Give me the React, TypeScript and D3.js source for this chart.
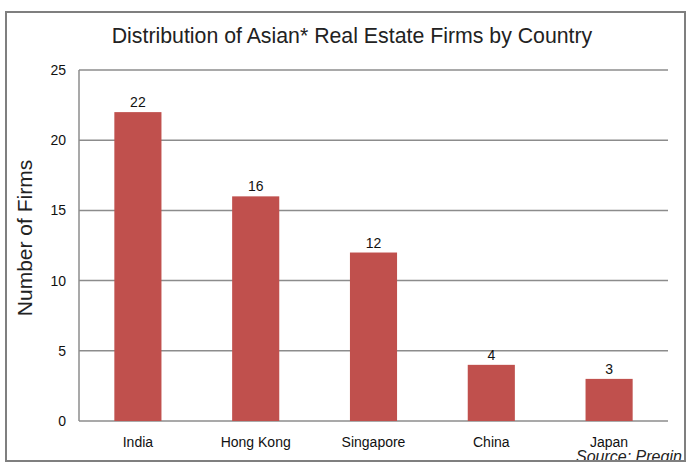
import React from "react";
import * as d3 from "d3";

const categories = ["India", "Hong Kong", "Singapore", "China", "Japan"];
const values = [22, 16, 12, 4, 3];
const yTicks = [0, 5, 10, 15, 20, 25];
const title = "Distribution of Asian* Real Estate Firms by Country";
const yLabel = "Number of Firms";
const source = "Source: Preqin";

export default function App() {
  const W = 688, H = 463;
  const plot = { left: 79, right: 668, top: 70, bottom: 421 };
  const x = d3.scaleBand<string>().domain(categories).range([plot.left, plot.right]).paddingInner(0.6).paddingOuter(0.3);
  const y = d3.scaleLinear().domain([0, 25]).range([plot.bottom, plot.top]);
  const font = "'Liberation Sans', Arial, sans-serif";
  return (
    <svg width={W} height={H} style={{ position: "absolute", left: 0, top: 0, background: "#fff" }} fontFamily={font}>
      <defs>
        <clipPath id="box"><rect x={6} y={12} width={679} height={449} /></clipPath>
      </defs>
      <rect x={0} y={0} width={W} height={H} fill="#fff" />
      <text x={352} y={43} textAnchor="middle" fontSize={21.3} fill="#222">{title}</text>
      {yTicks.map(t => (
        <g key={t}>
          <line x1={plot.left} x2={plot.right} y1={y(t)} y2={y(t)} stroke="#8c8c8c" strokeWidth={1.5} />
          <text x={66} y={y(t) + 5} textAnchor="end" fontSize={14} fill="#111">{t}</text>
        </g>
      ))}
      <line x1={plot.left} x2={plot.left} y1={plot.top} y2={plot.bottom} stroke="#8c8c8c" strokeWidth={1.5} />
      {categories.map((c, i) => (
        <g key={c}>
          <rect x={x(c)} y={y(values[i])} width={x.bandwidth()} height={plot.bottom - y(values[i])} fill="#C0504D" />
          <text x={(x(c) as number) + x.bandwidth() / 2} y={y(values[i]) - 5} textAnchor="middle" fontSize={14} fill="#111">{values[i]}</text>
          <text x={(x(c) as number) + x.bandwidth() / 2} y={447} textAnchor="middle" fontSize={14} fill="#111">{c}</text>
        </g>
      ))}
      <text transform={`translate(32,238) rotate(-90)`} textAnchor="middle" fontSize={21} fill="#222">{yLabel}</text>
      <g clipPath="url(#box)">
        <text x={576} y={462} fontSize={16} fontStyle="italic" fill="#222">{source}</text>
      </g>
      <rect x={6} y={12} width={679} height={449} fill="none" stroke="#7f7f7f" strokeWidth={2} />
    </svg>
  );
}
